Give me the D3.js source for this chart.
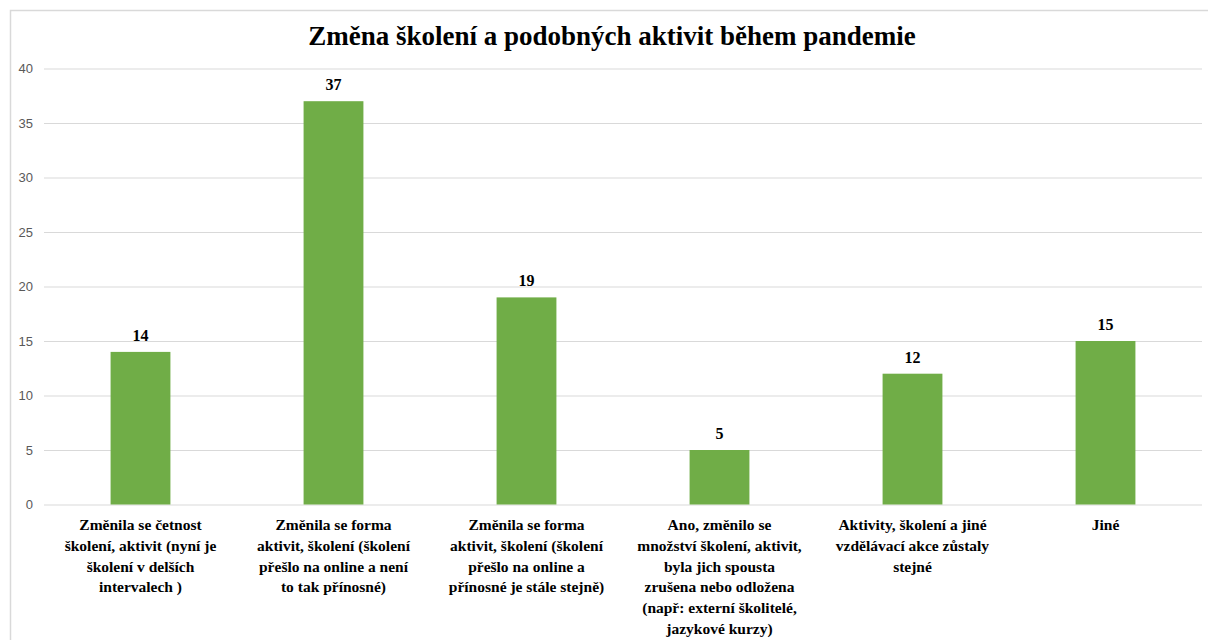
<!DOCTYPE html>
<html><head><meta charset="utf-8">
<script src="https://cdn.jsdelivr.net/npm/d3@7"></script>
<style>html,body{margin:0;padding:0;background:#fff;}svg{display:block;}
.serif{font-family:"Liberation Serif","Times New Roman","DejaVu Serif",serif;font-weight:bold;}
</style>
</head><body>
<script>
const title = "Změna školení a podobných aktivit během pandemie";
const categories = [
  ["Změnila se četnost","školení, aktivit (nyní je","školení v delších","intervalech )"],
  ["Změnila se forma","aktivit, školení (školení","přešlo na online a není","to tak přínosné)"],
  ["Změnila se forma","aktivit, školení (školení","přešlo na online a","přínosné je stále stejně)"],
  ["Ano, změnilo se","množství školení, aktivit,","byla jich spousta","zrušena nebo odložena","(např: externí školitelé,","jazykové kurzy)"],
  ["Aktivity, školení a jiné","vzdělávací akce zůstaly","stejné"],
  ["Jiné"]
];
const values = [14, 37, 19, 5, 12, 15];
const yTicks = [0, 5, 10, 15, 20, 25, 30, 35, 40];

const W = 1208, H = 640;
const svg = d3.select("body").append("svg").attr("width", W).attr("height", H);

svg.append("rect").attr("x", 10.5).attr("y", 10.5).attr("width", 1230).attr("height", 660)
  .attr("fill", "#fff").attr("stroke", "#d9d9d9").attr("stroke-width", 1.5);

const m = {left: 44, right: 1202, top: 68.5, bottom: 504.5};
const x = d3.scaleBand().domain(d3.range(values.length)).range([m.left, m.right]).paddingInner(0.69).paddingOuter(0.345);
const y = d3.scaleLinear().domain([0, 40]).range([m.bottom, m.top]);

svg.append("text").attr("class", "serif").attr("x", 612).attr("y", 45).attr("text-anchor", "middle")
  .attr("font-size", 27).attr("fill", "#000").text(title);

const yAxis = d3.axisLeft(y).tickValues(yTicks).tickSize(-(m.right - m.left)).tickPadding(11).tickFormat(d3.format("d"));
const ga = svg.append("g").attr("transform", `translate(${m.left},0)`).call(yAxis);
ga.select(".domain").remove();
ga.selectAll(".tick line").attr("stroke", "#d9d9d9").attr("stroke-width", 1.2);
ga.selectAll(".tick text").attr("fill", "#595959").attr("font-family", "'Liberation Sans', sans-serif").attr("font-size", 13);

svg.append("g").selectAll("rect").data(values).join("rect")
  .attr("x", (d, i) => x(i)).attr("width", x.bandwidth())
  .attr("y", d => y(d)).attr("height", d => y(0) - y(d))
  .attr("fill", "#70ad47");

svg.append("g").selectAll("text").data(values).join("text").attr("class", "serif")
  .attr("x", (d, i) => x(i) + x.bandwidth() / 2).attr("y", d => y(d) - 11)
  .attr("text-anchor", "middle").attr("font-size", 16).attr("fill", "#000").text(d => d);

const xb = d3.scaleBand().domain(d3.range(values.length)).range([m.left, m.right]);
const lab = svg.append("g").selectAll("text").data(categories).join("text").attr("class", "serif")
  .attr("x", (d, i) => xb(i) + xb.bandwidth() / 2).attr("y", 530)
  .attr("text-anchor", "middle").attr("font-size", 15.5).attr("fill", "#000");
lab.selectAll("tspan").data(d => d).join("tspan")
  .attr("x", function() { return d3.select(this.parentNode).attr("x"); })
  .attr("dy", (d, i) => i === 0 ? 0 : 20.8).text(d => d);
</script>
</body></html>
